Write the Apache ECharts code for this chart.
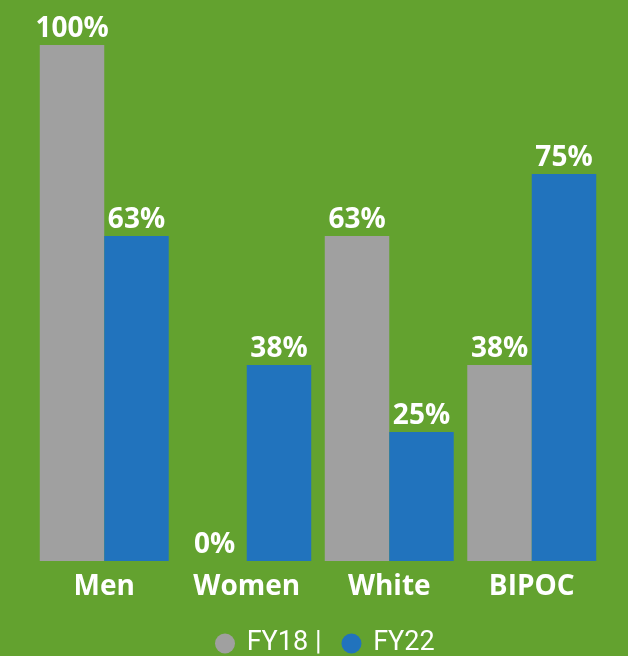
<!DOCTYPE html>
<html>
<head>
<meta charset="utf-8">
<script src="https://cdn.jsdelivr.net/npm/echarts@6/dist/echarts.min.js"></script>
<style>
  html, body { margin: 0; padding: 0; background: #63a22f; }
  #chart { width: 628px; height: 656px; }
</style>
</head>
<body>
<div id="chart"></div>
<script>
// Share of each group, by fiscal year (percent)
const categories = ['Men', 'Women', 'White', 'BIPOC'];
const fy18 = [100, 0, 63, 38];
const fy22 = [63, 38, 25, 75];
const seriesNames = ['FY18', 'FY22'];

const BOLD_FONT = '"Open Sans", Lato, sans-serif';
const LEGEND_FONT = 'Roboto, "Open Sans", sans-serif';
const chart = echarts.init(document.getElementById('chart'));

const valueLabel = {
  show: true,
  position: 'top',
  distance: 2,
  color: '#ffffff',
  fontFamily: BOLD_FONT,
  fontWeight: 'bold',
  fontSize: 28,
  formatter: p => p.value + '%'
};

chart.setOption({
  backgroundColor: '#63a22f',
  animation: false,
  grid: { left: 33, right: 25, top: 45, bottom: 95 },
  legend: {
    top: 625,
    left: 210,
    icon: 'circle',
    itemWidth: 20,
    itemHeight: 20,
    itemGap: 20,
    textStyle: { color: '#ffffff', fontFamily: LEGEND_FONT, fontSize: 27 },
    formatter: name => name === 'FY18' ? ' FY18 |' : ' ' + name,
    data: seriesNames
  },
  xAxis: {
    type: 'category',
    data: categories,
    axisLine: { show: false },
    axisTick: { show: false },
    axisLabel: {
      color: '#ffffff',
      fontFamily: BOLD_FONT,
      fontWeight: 'bold',
      fontSize: 28,
      margin: 12
    }
  },
  yAxis: {
    type: 'value',
    min: 0,
    max: 100,
    show: false,
    splitLine: { show: false }
  },
  series: [
    {
      name: seriesNames[0],
      type: 'bar',
      data: fy18,
      barGap: '0%',
      barCategoryGap: '9.5%',
      itemStyle: { color: '#a0a0a0' },
      label: valueLabel
    },
    {
      name: seriesNames[1],
      type: 'bar',
      data: fy22,
      itemStyle: { color: '#2173bd' },
      label: valueLabel
    }
  ]
});
</script>
</body>
</html>
